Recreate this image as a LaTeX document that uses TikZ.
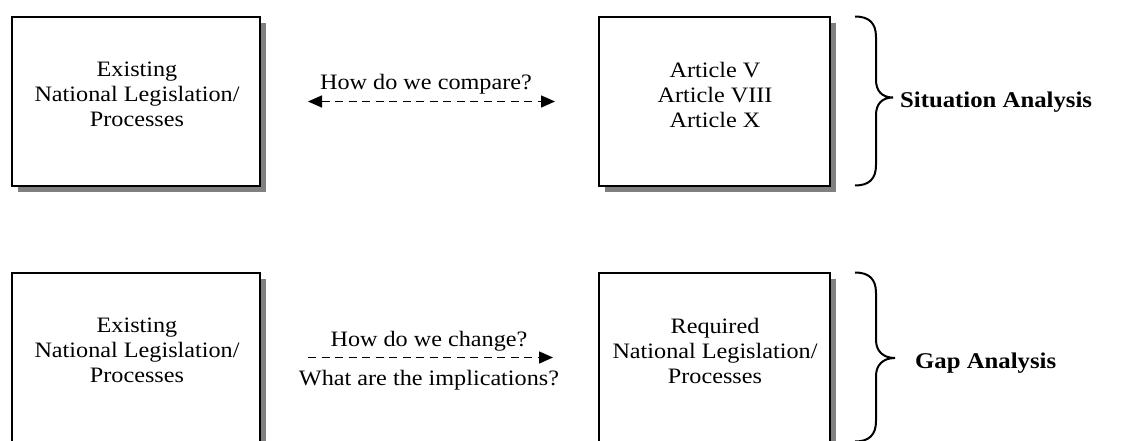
\documentclass[tikz,border=0pt]{standalone}
\usepackage{fontspec}
\setmainfont{Liberation Serif}[FakeStretch=1.1]
\usetikzlibrary{arrows.meta,shadows}
\begin{document}
\begin{tikzpicture}[x=1pt,y=-1pt,
  box/.style={draw=black, line width=2pt, fill=white, minimum width=#1, minimum height=169pt, inner sep=0pt,
    drop shadow={shadow xshift=6pt, shadow yshift=-6pt, fill=gray, opacity=1}},
  boxtext/.style={align=center, font=\fontsize{22}{25}\selectfont, inner sep=0pt},
  lbl/.style={font=\fontsize{22}{25}\selectfont, inner sep=0pt, anchor=base},
  headtext/.style={font=\fontsize{22.5}{26}\selectfont\bfseries, inner sep=0pt, anchor=base west},
  conn/.style={line width=1.5pt, dash pattern=on 8pt off 5.5pt},
  bracepath/.style={line width=2pt}]
\useasboundingbox (0,0) rectangle (1146,441);
\clip (0,0) rectangle (1146,441);
\fill[white] (0,0) rectangle (1146,441);

% boxes
\node[box=248pt] (a1) at (136,101.5) {};
\node[box=231pt] (b1) at (714.5,101.5) {};
\node[box=248pt] (a2) at (136,357.5) {};
\node[box=231pt] (b2) at (714.5,357.5) {};

% box texts
\node[boxtext] (ta1) at (137,94) {Existing\\National Legislation/\\Processes};
\node[boxtext] (tb1) at (715,94.5) {Article V\\Article VIII\\Article X};
\node[boxtext] (ta2) at (137,350.5) {Existing\\National Legislation/\\Processes};
\node[boxtext] (tb2) at (715,350.5) {Required\\National Legislation/\\Processes};

% connectors
\draw[conn, {Triangle[length=14pt,width=12pt]}-{Triangle[length=14pt,width=12pt]}, shorten <=47pt, shorten >=43pt] (a1.east) -- (b1.west);
\draw[conn, -{Triangle[length=14pt,width=12pt]}, shorten <=47pt, shorten >=45pt] (a2.east) -- (b2.west);

% connector labels
\node[lbl] (q1) at (426,89.3) {How do we compare?};
\node[lbl] (q2) at (429,346.7) {How do we change?};
\node[lbl] (q3) at (429,385) {What are the implications?};

% braces
\draw[bracepath] (855,16.5) .. controls (869,16.5) and (876,23) .. (876,37) -- (876,80)
  .. controls (876,91) and (882,97.5) .. (893,97.5)
  .. controls (882,97.5) and (876,104) .. (876,115) -- (876,165)
  .. controls (876,179) and (869,185.5) .. (855,185.5);
\draw[bracepath] (855,272.5) .. controls (869,272.5) and (876,279) .. (876,293) -- (876,340)
  .. controls (876,351) and (883,358) .. (895,358)
  .. controls (883,358) and (876,365) .. (876,376) -- (876,421)
  .. controls (876,435) and (869,441.5) .. (855,441.5);

% headings
\node[headtext] (h1) at (900,107.3) {Situation Analysis};
\node[headtext] (h2) at (915,368.3) {Gap Analysis};
\end{tikzpicture}
\end{document}
